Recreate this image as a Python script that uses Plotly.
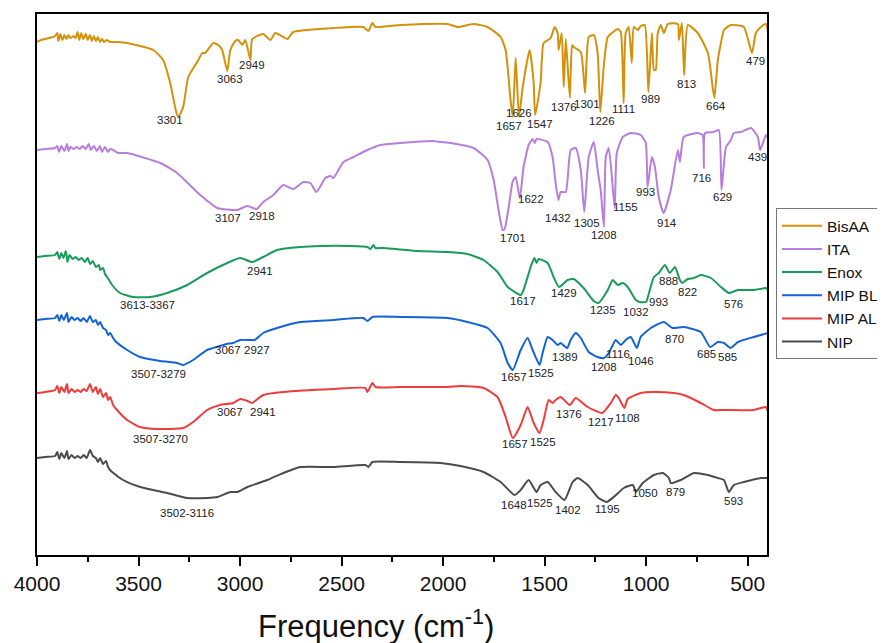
import plotly.graph_objects as go

# ---- data: (wavenumber cm^-1, transmittance in arbitrary stacked units) ----
bisaa_points = [
    (4000, 511), (3980, 513), (3960, 514), (3940, 515), (3920, 516), (3911, 517), (3900, 520), (3895, 512),
    (3885, 519), (3875, 513), (3865, 518), (3855, 514), (3845, 518), (3835, 515), (3820, 517), (3810, 515),
    (3800, 521), (3792, 513), (3782, 520), (3772, 514), (3760, 519), (3750, 513), (3740, 518), (3730, 512),
    (3720, 517), (3710, 512), (3700, 516), (3690, 511), (3680, 514), (3670, 511), (3656, 513), (3640, 511),
    (3600, 511), (3556, 510), (3428, 503), (3379, 493), (3344, 470), (3310, 438), (3301, 437), (3280, 446),
    (3255, 476), (3211, 491), (3186, 500), (3172, 500), (3132, 510), (3107, 508), (3088, 503), (3063, 482),
    (3048, 503), (3024, 512), (3009, 513), (2989, 508), (2974, 513), (2949, 493), (2940, 514), (2886, 519),
    (2851, 513), (2826, 520), (2767, 514), (2738, 521), (2540, 525), (2393, 526), (2368, 522), (2348, 530),
    (2333, 526), (2210, 528), (1978, 529), (1929, 526), (1850, 529), (1781, 526), (1717, 516), (1692, 503),
    (1668, 453), (1657, 436), (1643, 495), (1626, 436), (1608, 466), (1574, 503), (1554, 470), (1547, 438),
    (1520, 470), (1505, 510), (1470, 515), (1451, 526), (1436, 520), (1431, 503), (1416, 520), (1406, 466),
    (1396, 514), (1376, 455), (1365, 508), (1357, 506), (1322, 501), (1301, 460), (1283, 516), (1258, 518),
    (1239, 500), (1226, 441), (1209, 486), (1189, 516), (1140, 524), (1125, 521), (1111, 450), (1101, 520),
    (1086, 526), (1071, 490), (1061, 526), (1041, 523), (1027, 527), (1007, 528), (989, 461), (972, 520),
    (962, 483), (953, 483), (943, 520), (928, 528), (913, 520), (893, 529), (844, 529), (839, 513),
    (824, 530), (813, 478), (795, 528), (746, 520), (696, 500), (672, 465), (664, 455), (647, 493),
    (632, 510), (617, 523), (583, 528), (519, 526), (479, 500), (460, 520), (435, 526), (410, 529), (400, 521),
]

ita_points = [
    (4000, 403), (3960, 404), (3911, 405), (3900, 407), (3892, 401), (3880, 407), (3865, 402), (3852, 409),
    (3845, 402), (3835, 406), (3820, 404), (3805, 406), (3790, 404), (3775, 407), (3760, 404), (3745, 409),
    (3735, 403), (3720, 407), (3705, 402), (3690, 407), (3680, 401), (3665, 406), (3650, 401), (3640, 404),
    (3625, 403), (3600, 400), (3556, 400), (3393, 390), (3310, 380), (3196, 358), (3112, 345), (3014, 343),
    (2964, 347), (2918, 344), (2886, 351), (2836, 358), (2787, 368), (2738, 364), (2688, 371), (2654, 370),
    (2624, 361), (2580, 375), (2555, 377), (2540, 375), (2491, 391), (2442, 396), (2373, 403), (2309, 408),
    (2210, 410), (2146, 411), (2047, 412), (2013, 411), (1963, 410), (1850, 405), (1781, 393), (1751, 373),
    (1727, 343), (1707, 323), (1701, 323), (1695, 325), (1677, 346), (1658, 371), (1643, 376), (1622, 355),
    (1604, 386), (1579, 408), (1570, 411), (1560, 414), (1548, 410), (1540, 414), (1485, 411), (1461, 396),
    (1446, 370), (1432, 353), (1421, 361), (1396, 361), (1372, 403), (1347, 405), (1322, 383), (1305, 341),
    (1283, 396), (1258, 411), (1239, 383), (1224, 363), (1208, 326), (1199, 396), (1184, 405), (1155, 345),
    (1145, 400), (1115, 416), (1076, 420), (1027, 418), (1002, 410), (993, 366), (972, 396), (957, 386),
    (938, 356), (914, 340), (879, 363), (844, 403), (834, 391), (815, 416), (746, 420), (722, 418),
    (716, 385), (710, 420), (667, 421), (642, 423), (629, 363), (607, 406), (583, 413), (568, 420),
    (534, 421), (484, 425), (450, 416), (439, 403), (410, 418), (400, 415),
]

enox_points = [
    (4000, 296), (3960, 297), (3911, 298), (3900, 301), (3890, 294), (3880, 300), (3870, 295), (3858, 302),
    (3850, 291), (3840, 298), (3825, 294), (3810, 296), (3795, 293), (3780, 295), (3765, 291), (3750, 295),
    (3739, 289), (3725, 292), (3710, 286), (3695, 288), (3689, 283), (3675, 285), (3665, 279), (3655, 276),
    (3645, 273), (3630, 268), (3591, 260), (3527, 256), (3443, 256), (3359, 260), (3260, 268), (3162, 280),
    (3063, 290), (2999, 295), (2941, 291), (2886, 296), (2817, 303), (2703, 306), (2605, 307), (2457, 307),
    (2373, 306), (2358, 304), (2343, 308), (2333, 305), (2294, 305), (2126, 302), (1978, 301), (1880, 299),
    (1801, 293), (1732, 281), (1682, 266), (1617, 258), (1604, 263), (1569, 286), (1560, 291), (1550, 295),
    (1540, 290), (1530, 294), (1485, 290), (1456, 276), (1429, 266), (1387, 273), (1357, 274), (1308, 265),
    (1258, 252), (1235, 250), (1189, 263), (1165, 273), (1140, 268), (1115, 270), (1091, 266), (1051, 253),
    (1032, 251), (1000, 251), (993, 255), (962, 276), (938, 280), (908, 288), (884, 280), (858, 286),
    (834, 273), (822, 270), (795, 274), (765, 275), (731, 278), (681, 275), (632, 266), (593, 260),
    (576, 261), (548, 263), (470, 263), (410, 265), (400, 263),
]

mip_bl_points = [
    (4000, 233), (3960, 234), (3911, 235), (3900, 238), (3890, 232), (3880, 238), (3868, 233), (3852, 240),
    (3845, 231), (3830, 236), (3815, 233), (3800, 235), (3785, 232), (3770, 235), (3755, 231), (3739, 237),
    (3725, 231), (3710, 233), (3700, 228), (3689, 231), (3675, 225), (3660, 223), (3650, 218), (3640, 220),
    (3625, 215), (3615, 212), (3556, 203), (3492, 196), (3393, 192), (3310, 190), (3279, 188), (3231, 193),
    (3162, 203), (3098, 207), (3067, 209), (3034, 210), (2999, 213), (2950, 213), (2927, 213), (2886, 220),
    (2802, 226), (2703, 231), (2540, 233), (2393, 235), (2373, 232), (2348, 236), (2210, 236), (1978, 235),
    (1880, 231), (1781, 225), (1717, 210), (1682, 190), (1657, 183), (1618, 203), (1584, 215), (1559, 203),
    (1525, 188), (1510, 200), (1485, 216), (1461, 213), (1436, 208), (1421, 210), (1389, 205), (1372, 213),
    (1347, 220), (1322, 215), (1283, 201), (1239, 196), (1208, 195), (1184, 200), (1150, 213), (1125, 208),
    (1101, 213), (1076, 216), (1046, 205), (1027, 216), (977, 225), (913, 231), (870, 225), (815, 226),
    (731, 221), (685, 206), (647, 211), (617, 210), (585, 205), (548, 211), (470, 216), (400, 220),
]

mip_al_points = [
    (4000, 160), (3960, 161), (3911, 163), (3900, 167), (3890, 160), (3880, 166), (3865, 161), (3852, 169),
    (3845, 160), (3830, 164), (3815, 161), (3800, 163), (3785, 161), (3770, 164), (3755, 162), (3739, 169),
    (3725, 161), (3710, 166), (3700, 159), (3689, 164), (3675, 156), (3660, 160), (3650, 153), (3640, 156),
    (3625, 148), (3606, 143), (3556, 133), (3492, 126), (3408, 124), (3280, 125), (3231, 131), (3162, 143),
    (3098, 148), (3034, 150), (2999, 154), (2964, 152), (2941, 150), (2886, 158), (2787, 161), (2540, 164),
    (2383, 165), (2373, 161), (2348, 170), (2333, 166), (2210, 166), (1978, 166), (1914, 167), (1801, 165),
    (1732, 156), (1692, 136), (1657, 115), (1618, 128), (1584, 146), (1554, 130), (1525, 120), (1505, 133),
    (1480, 153), (1461, 150), (1446, 153), (1421, 156), (1376, 148), (1347, 155), (1288, 146), (1217, 140),
    (1174, 150), (1150, 158), (1135, 155), (1108, 145), (1091, 154), (1027, 160), (962, 161), (864, 160),
    (815, 158), (731, 150), (667, 143), (617, 143), (470, 143), (410, 146), (400, 141),
]

nip_points = [
    (4000, 95), (3960, 96), (3911, 97), (3900, 101), (3890, 94), (3880, 100), (3865, 95), (3852, 102),
    (3845, 94), (3830, 98), (3815, 95), (3800, 97), (3785, 95), (3770, 98), (3755, 95), (3739, 103),
    (3725, 97), (3710, 95), (3700, 91), (3689, 95), (3675, 89), (3660, 92), (3650, 86), (3640, 83),
    (3630, 81), (3576, 73), (3492, 66), (3359, 60), (3260, 55), (3162, 55), (3112, 56), (3048, 61),
    (3014, 61), (2964, 66), (2866, 73), (2787, 80), (2703, 86), (2540, 86), (2383, 88), (2368, 86),
    (2348, 91), (2210, 91), (2013, 90), (1914, 87), (1801, 81), (1717, 71), (1648, 58), (1618, 63),
    (1579, 73), (1540, 61), (1520, 68), (1485, 71), (1446, 61), (1402, 53), (1362, 71), (1337, 75),
    (1288, 68), (1234, 55), (1195, 51), (1160, 56), (1110, 65), (1066, 68), (1050, 61), (1017, 70),
    (962, 78), (918, 80), (888, 75), (879, 70), (829, 73), (765, 80), (696, 78), (647, 75),
    (617, 73), (593, 61), (568, 68), (519, 71), (435, 75), (400, 75),
]

series_names = ["BisAA", "ITA", "Enox", "MIP BL", "MIP AL", "NIP"]
series_points = [bisaa_points, ita_points, enox_points, mip_bl_points, mip_al_points, nip_points]
series_colors = ["#D4910B", "#B77EDB", "#1A9B5B", "#1463D6", "#EF3B3B", "#4B4B4B"]

# peak labels: (text, label centre wavenumber, label centre value)
peak_labels = [
    ("3301", 3344, 433), ("3063", 3049, 474), ("2949", 2940, 488), ("1657", 1678, 427), ("1626", 1624, 440),
    ("1547", 1525, 429), ("1376", 1407, 446), ("1301", 1293, 449), ("1226", 1219, 432), ("1111", 1111, 444),
    ("989", 978, 454), ("813", 800, 469), ("664", 657, 447), ("479", 460, 492),
    ("3107", 3058, 335), ("2918", 2891, 337), ("1701", 1658, 315), ("1622", 1565, 354), ("1432", 1436, 335),
    ("1305", 1293, 330), ("1208", 1210, 318), ("1155", 1101, 346), ("993", 1003, 361), ("914", 899, 330),
    ("716", 727, 375), ("629", 623, 356), ("439", 450, 396),
    ("3613-3367", 3458, 248), ("2941", 2901, 282), ("1617", 1609, 252), ("1429", 1407, 260), ("1235", 1215, 243),
    ("1032", 1052, 241), ("993", 938, 251), ("888", 889, 272), ("822", 796, 261), ("576", 569, 249),
    ("3507-3279", 3403, 179), ("3067", 3058, 203), ("2927", 2915, 203), ("1657", 1653, 176), ("1525", 1520, 180),
    ("1389", 1402, 196), ("1208", 1210, 186), ("1116", 1141, 199), ("1046", 1027, 192), ("870", 860, 214),
    ("685", 702, 199), ("585", 598, 196),
    ("3507-3270", 3394, 114), ("3067", 3049, 141), ("2941", 2886, 141), ("1657", 1648, 109), ("1525", 1510, 111),
    ("1376", 1382, 139), ("1217", 1224, 131), ("1108", 1091, 135),
    ("3502-3116", 3260, 40), ("1648", 1653, 48), ("1525", 1525, 50), ("1402", 1387, 43), ("1195", 1190, 44),
    ("1050", 1008, 60), ("879", 855, 61), ("593", 569, 52),
]

x_ticks = [4000, 3500, 3000, 2500, 2000, 1500, 1000, 500]

FONT = "Liberation Sans, Arial, Helvetica, sans-serif"

fig = go.Figure()
for name, pts, col in zip(series_names, series_points, series_colors):
    xs = [p[0] for p in pts]
    ys = [p[1] for p in pts]
    fig.add_trace(go.Scatter(x=xs, y=ys, mode="lines", name=name,
                             line=dict(color=col, width=2, shape="spline", smoothing=0.5)))

for text, xw, yv in peak_labels:
    fig.add_annotation(x=xw, y=yv, text=text, showarrow=False,
                       xanchor="center", yanchor="middle",
                       font=dict(family=FONT, size=11.5, color="#222222"))

# axis title placed as an annotation so its size/position match the original
fig.add_annotation(xref="paper", yref="paper", x=0.4637, y=-0.1275,
                   text="Frequency (cm<sup>-1</sup>)", showarrow=False,
                   xanchor="center", yanchor="middle",
                   font=dict(family=FONT, size=31, color="#111111"))

fig.update_layout(
    width=877, height=635,
    margin=dict(l=29, r=118, t=6, b=88, autoexpand=False),
    paper_bgcolor="white", plot_bgcolor="white",
    font=dict(family=FONT, color="#111111"),
    showlegend=True,
    legend=dict(x=1.0123, y=0.641, xanchor="left", yanchor="top",
                bgcolor="white", bordercolor="#777777", borderwidth=1,
                font=dict(family=FONT, size=15.5, color="#111111"),
                itemwidth=40, tracegroupgap=0),
)
fig.update_xaxes(
    range=[4000, 405], tickvals=x_ticks, ticktext=[str(t) for t in x_ticks],
    showline=True, linecolor="black", linewidth=2, mirror=True,
    ticks="outside", ticklen=9, tickwidth=1.5, tickcolor="black",
    minor=dict(ticks="outside", ticklen=5, tickwidth=1.5, tickcolor="black", dtick=250, tick0=0),
    showgrid=False, zeroline=False,
    tickfont=dict(family=FONT, size=21, color="#111111"),
)
fig.update_yaxes(
    range=[-2, 539], showticklabels=False, ticks="",
    showline=True, linecolor="black", linewidth=2, mirror=True,
    showgrid=False, zeroline=False,
)

fig.write_html("out.html")
